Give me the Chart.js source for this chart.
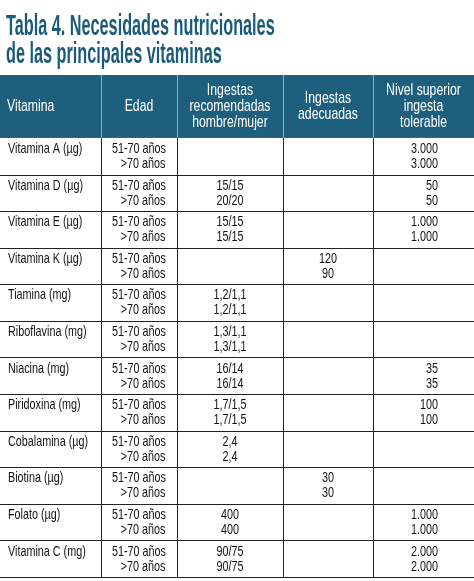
<!DOCTYPE html>
<html>
<head>
<meta charset="utf-8">
<script src="https://cdn.jsdelivr.net/npm/chart.js@4"></script>
<style>
  html, body { margin: 0; padding: 0; background: #fff; }
  #wrap { width: 474px; height: 581px; }
</style>
</head>
<body>
<div id="wrap"><canvas id="tableChart"></canvas></div>
<script>
// Table data
const titleLines = ['Tabla 4. Necesidades nutricionales', 'de las principales vitaminas'];
const headers = [['Vitamina'], ['Edad'], ['Ingestas', 'recomendadas', 'hombre/mujer'], ['Ingestas', 'adecuadas'], ['Nivel superior', 'ingesta', 'tolerable']];
const vitamins = ['Vitamina A (µg)', 'Vitamina D (µg)', 'Vitamina E (µg)', 'Vitamina K (µg)', 'Tiamina (mg)', 'Riboflavina (mg)',
  'Niacina (mg)', 'Piridoxina (mg)', 'Cobalamina (µg)', 'Biotina (µg)', 'Folato (µg)', 'Vitamina C (mg)'];
const ageGroups = ['51-70 años', '>70 años'];
const recomendadas = [null, ['15/15', '20/20'], ['15/15', '15/15'], null, ['1,2/1,1', '1,2/1,1'], ['1,3/1,1', '1,3/1,1'],
  ['16/14', '16/14'], ['1,7/1,5', '1,7/1,5'], ['2,4', '2,4'], null, ['400', '400'], ['90/75', '90/75']];
const adecuadas = [null, null, null, ['120', '90'], null, null, null, null, null, ['30', '30'], null, null];
const superior = [['3.000', '3.000'], ['50', '50'], ['1.000', '1.000'], null, null, null,
  ['35', '35'], ['100', '100'], null, null, ['1.000', '1.000'], ['2.000', '2.000']];

// column edges in x-scale units (0..474), header height in row units
const colEdges = [0, 101, 177, 283, 373, 474];
const headerRows = 1.72;
const teal = '#1f5f7e';
const font = '"Liberation Sans", Arial, sans-serif';

// condensed text: draw with horizontal squeeze
function text(c, t, x, y, align, sx) {
  const w = c.measureText(t).width * sx;
  let x0 = x;
  if (align === 'center') x0 = x - w / 2;
  else if (align === 'right') x0 = x - w;
  c.save();
  c.translate(x0, y);
  c.scale(sx, 1);
  c.textAlign = 'left';
  c.fillText(t, 0, 0);
  c.restore();
}

const tablePlugin = {
  id: 'tableDraw',
  afterDraw(chart) {
    const c = chart.ctx, xs = chart.scales.x, ys = chart.scales.y;
    const X = v => xs.getPixelForValue(v), Y = v => ys.getPixelForValue(v);
    const total = headerRows + vitamins.length;
    c.save();
    // title
    c.textBaseline = 'alphabetic';
    c.fillStyle = '#1a5a7a';
    c.font = 'bold 29px ' + font;
    titleLines.forEach((t, i) => text(c, t, 6, 35 + i * 28, 'left', 0.56));
    // header background
    c.fillStyle = teal;
    c.fillRect(X(0), Y(0), X(474) - X(0), Y(headerRows) - Y(0));
    c.textBaseline = 'middle';
    c.font = '17px ' + font;
    c.fillStyle = '#fff';
    headers.forEach((lines, i) => {
      const cy = (Y(0) + Y(headerRows)) / 2;
      const lh = 16;
      lines.forEach((t, j) => {
        const y = cy + (j - (lines.length - 1) / 2) * lh;
        if (i === 0) text(c, t, X(colEdges[0]) + 7, y, 'left', 0.72);
        else text(c, t, (X(colEdges[i]) + X(colEdges[i + 1])) / 2, y, 'center', 0.72);
      });
    });
    // body text
    c.font = '15px ' + font;
    c.fillStyle = '#111';
    const sx = 0.72;
    vitamins.forEach((v, r) => {
      const top = Y(headerRows + r);
      const l1 = top + 11, l2 = top + 26;
      text(c, v, X(colEdges[0]) + 8, l1, 'left', sx);
      const ageX = (X(colEdges[1]) + X(colEdges[2])) / 2;
      text(c, ageGroups[0], ageX, l1, 'center', sx);
      text(c, ageGroups[1], ageX + 4, l2, 'center', sx);
      [recomendadas, adecuadas].forEach((arr, k) => {
        if (!arr[r]) return;
        const cx = (X(colEdges[2 + k]) + X(colEdges[3 + k])) / 2;
        text(c, arr[r][0], cx, l1, 'center', sx);
        text(c, arr[r][1], cx, l2, 'center', sx);
      });
      if (superior[r]) {
        text(c, superior[r][0], X(colEdges[5]) - 36, l1, 'right', sx);
        text(c, superior[r][1], X(colEdges[5]) - 36, l2, 'right', sx);
      }
    });
    // grid lines
    c.strokeStyle = '#222';
    c.lineWidth = 1;
    c.beginPath();
    for (let r = 1; r <= vitamins.length; r++) {
      const y = Math.round(Y(headerRows + r)) + 0.5;
      c.moveTo(X(0), y); c.lineTo(X(474), y);
    }
    colEdges.slice(1, -1).forEach(e => {
      const x = Math.round(X(e)) + 0.5;
      c.moveTo(x, Y(headerRows)); c.lineTo(x, Y(total));
    });
    c.stroke();
    c.strokeStyle = '#8fb0c2';
    c.beginPath();
    colEdges.slice(1, -1).forEach(e => {
      const x = Math.round(X(e)) + 0.5;
      c.moveTo(x, Y(0)); c.lineTo(x, Y(headerRows));
    });
    c.stroke();
    c.restore();
  }
};

new Chart(document.getElementById('tableChart'), {
  type: 'scatter',
  data: { datasets: [{ data: [] }] },
  options: {
    responsive: true,
    maintainAspectRatio: false,
    animation: false,
    layout: { padding: { top: 75, bottom: 4, left: 0, right: 0 } },
    scales: {
      x: { type: 'linear', min: 0, max: 474, display: false },
      y: { type: 'linear', min: 0, max: headerRows + vitamins.length, reverse: true, display: false }
    },
    plugins: {
      legend: { display: false },
      tooltip: { enabled: false },
      title: { display: false }
    }
  },
  plugins: [tablePlugin]
});
</script>
</body>
</html>
